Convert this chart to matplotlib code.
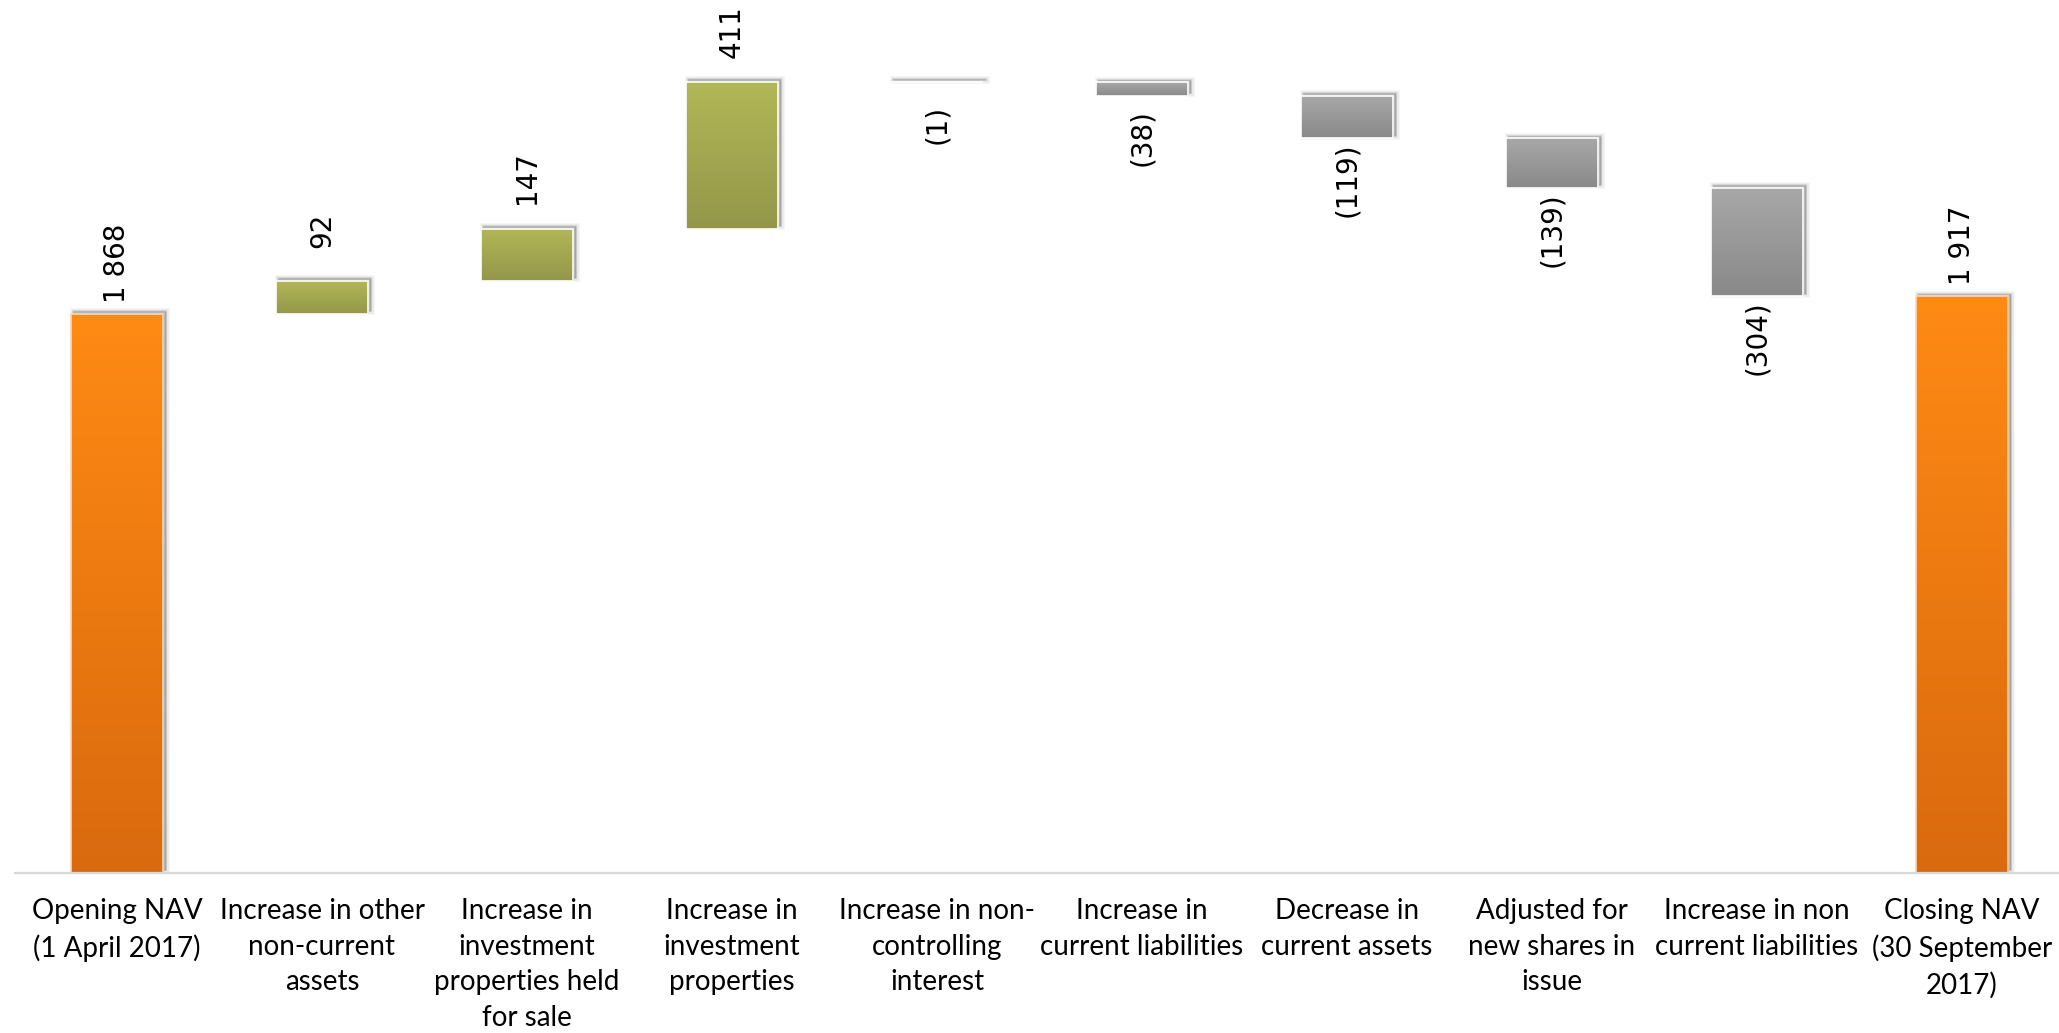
import numpy as np
import matplotlib
matplotlib.use("Agg")
import matplotlib.pyplot as plt
from matplotlib.patches import Rectangle
from matplotlib.transforms import offset_copy
from matplotlib.colors import LinearSegmentedColormap

# NAV bridge data (R millions)
categories = [
    "Opening NAV\n(1 April 2017)",
    "Increase in other\nnon-current\nassets",
    "Increase in\ninvestment\nproperties held\nfor sale",
    "Increase in\ninvestment\nproperties",
    "Increase in non-\ncontrolling\ninterest",
    "Increase in\ncurrent liabilities",
    "Decrease in\ncurrent assets",
    "Adjusted for\nnew shares in\nissue",
    "Increase in non\ncurrent liabilities",
    "Closing NAV\n(30 September\n2017)",
]
values = [1868, 92, 147, 411, -1, -38, -119, -139, -304, 1917]
kinds = ["total", "up", "up", "up", "down", "down", "down", "down", "down", "total"]

# gradient colours (top, bottom) per bar kind
gradients = {
    "total": ("#FF8A14", "#D96A0E"),
    "up": ("#B2B757", "#93974A"),
    "down": ("#A8A8A8", "#898989"),
}
edge_colors = {"total": "#FBD8B8", "up": "#FFFFFF", "down": "#FFFFFF"}

W, H, DPI = 2059, 1033, 100
fig = plt.figure(figsize=(W / DPI, H / DPI), dpi=DPI)
fig.patch.set_facecolor("white")

slot = 205.0
left_px = 14.5
base_px = 1033 - 872.7
ax = fig.add_axes([left_px / W, base_px / H, 10 * slot / W, 1 - base_px / H])
ax.set_facecolor("none")

ymin, ymax = 300, 2748
bar_w = 0.45

# waterfall bottoms/tops
running = 0
spans = []
for v, k in zip(values, kinds):
    if k == "total":
        lo, hi = 0, v
        running = v
    else:
        start = running
        running = running + v
        lo, hi = min(start, running), max(start, running)
    spans.append((lo, hi))

grad = np.linspace(1, 0, 256).reshape(-1, 1)
shadow_tr = offset_copy(ax.transData, fig=fig, x=2.5, y=2.5, units="dots")

for i, ((lo, hi), k) in enumerate(zip(spans, kinds)):
    x0 = i - bar_w / 2
    lo_c = max(lo, ymin)
    h = hi - lo_c
    # soft drop shadow
    for lw, a in [(7, 0.035), (4.5, 0.05), (2, 0.08)]:
        ax.add_patch(Rectangle((x0, lo_c), bar_w, h, transform=shadow_tr,
                               facecolor=(0, 0, 0, 0.08), edgecolor=(0, 0, 0, a),
                               linewidth=lw * 72 / DPI, zorder=1))
    top_c, bot_c = gradients[k]
    cmap = LinearSegmentedColormap.from_list(k, [bot_c, top_c])
    rect = Rectangle((x0, lo_c), bar_w, h, facecolor="none", edgecolor="none")
    ax.add_patch(rect)
    img = ax.imshow(grad, cmap=cmap, vmin=0, vmax=1, aspect="auto",
                    extent=[x0, x0 + bar_w, lo_c, hi], origin="upper",
                    zorder=2, interpolation="bilinear")
    img.set_clip_path(rect)
    ax.add_patch(Rectangle((x0, lo_c), bar_w, h, facecolor="none",
                           edgecolor=edge_colors[k], linewidth=1.2, zorder=3))


def fmt(v):
    s = f"{abs(v):,}".replace(",", " ")
    return s if v >= 0 else f"({s})"


for i, ((lo, hi), v) in enumerate(zip(spans, values)):
    if v >= 0:
        ax.annotate(fmt(v), xy=(i, hi), xytext=(0, 36.5), textcoords="offset points",
                    rotation=90, ha="center", va="center", fontsize=20,
                    family="DejaVu Sans", color="black", zorder=5)
    else:
        ax.annotate(fmt(v), xy=(i, lo), xytext=(0, -30), textcoords="offset points",
                    rotation=90, ha="center", va="center", fontsize=20,
                    family="DejaVu Sans", color="black", zorder=5)

ax.set_xlim(-0.5, len(values) - 0.5)
ax.set_ylim(ymin, ymax)
ax.set_xticks(range(len(categories)))
ax.set_xticklabels(categories, fontsize=20, family="Lato", linespacing=1.47)
ax.tick_params(axis="x", length=0, pad=18)
ax.set_yticks([])
for s in ["left", "right", "top"]:
    ax.spines[s].set_visible(False)
ax.spines["bottom"].set_color("#D9D9D9")
ax.spines["bottom"].set_linewidth(1.6)
ax.spines["bottom"].set_zorder(4)

fig.savefig("out.png", dpi=DPI, facecolor="white")
